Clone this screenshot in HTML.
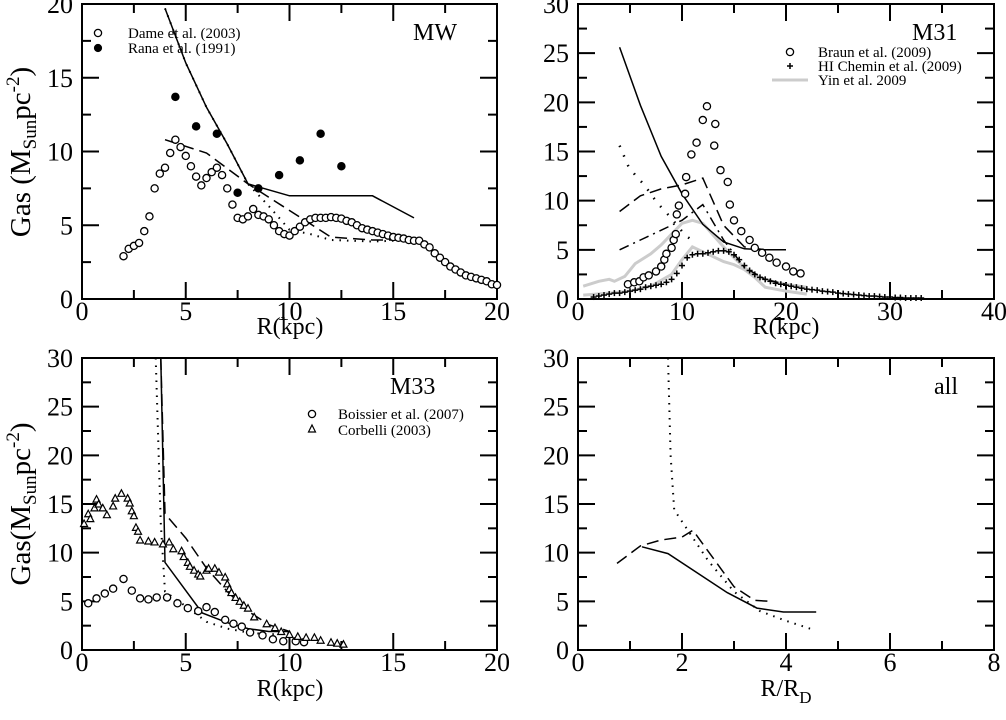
<!DOCTYPE html>
<html><head><meta charset="utf-8"><style>
body{margin:0;background:#fff;}
svg text{font-family:"Liberation Serif",serif;fill:#000;}
</style></head><body>
<svg id="fig" width="1006" height="715" viewBox="0 0 1006 715" xmlns="http://www.w3.org/2000/svg"></svg>
<script>
// ---------- MW data ----------
const mwDameR=[2,2.25,2.5,2.75,3,3.25,3.5,3.75,4,4.25,4.5,4.75,5,5.25,5.5,5.75,6,6.25,6.5,6.75,7,7.25,7.5,7.75,8,8.25,8.5,8.75,9,9.25,9.5,9.75,10,10.25,10.5,10.75,11,11.25,11.5,11.75,12,12.25,12.5,12.75,13,13.25,13.5,13.75,14,14.25,14.5,14.75,15,15.25,15.5,15.75,16,16.25,16.5,16.75,17,17.25,17.5,17.75,18,18.25,18.5,18.75,19,19.25,19.5,19.75,20];
const mwDameV=[2.9,3.4,3.6,3.8,4.6,5.6,7.5,8.5,8.9,9.9,10.8,10.3,9.7,9.0,8.3,7.7,8.2,8.6,8.9,8.4,7.5,6.4,5.5,5.4,5.6,6.1,5.7,5.6,5.4,5.0,4.6,4.4,4.3,4.6,4.9,5.2,5.4,5.5,5.5,5.5,5.55,5.5,5.45,5.3,5.2,5.0,4.8,4.7,4.6,4.5,4.4,4.3,4.2,4.15,4.1,4.0,3.95,3.95,3.7,3.5,3.1,2.8,2.5,2.2,2.0,1.8,1.6,1.5,1.4,1.3,1.2,1.0,0.95];
const mwRanaR=[4.5,5.5,6.5,7.5,8.5,9.5,10.5,11.5,12.5];
const mwRanaV=[13.7,11.7,11.2,7.2,7.5,8.4,9.4,11.2,9.0];
const mwSolidR=[4,5,6,7,8,10,14,16];
const mwSolidV=[19.7,16,13,10.5,7.8,7,7,5.5];
const mwDashR=[4,6,8,10,12,14,16];
const mwDashV=[10.8,9.9,7.8,6.0,4.2,4.0,4.0];
const mwDotR=[4,5,6,7,8,9,10,11,12,14,16];
const mwDotV=[19.7,16,13,10.5,7.8,6.3,4.7,4.4,4.0,3.9,4.0];
// ---------- M31 data ----------
const m31BraunR=[4.8,5.4,5.9,6.3,6.8,7.5,8.0,8.3,8.5,9.0,9.2,9.4,9.5,9.7,10.3,10.4,10.9,11.4,12.0,12.4,13.1,13.2,13.7,14.4,14.6,15.0,15.7,16.5,17.0,17.7,18.4,19.1,20.0,20.7,21.4];
const m31BraunV=[1.5,1.7,1.8,2.2,2.4,2.8,3.3,4.0,4.6,5.2,6.0,6.6,8.6,9.5,10.7,12.4,14.7,15.9,18.2,19.6,15.6,17.8,13.1,11.9,9.6,8.0,6.9,6.0,5.2,4.7,4.2,3.7,3.3,2.8,2.6];
const m31CheminR=[1.5,2,2.5,3,3.5,4,4.5,5,5.5,6,6.5,7,7.5,8,8.5,9,9.5,10,10.5,11,11.5,12,12.5,13,13.5,14,14.5,15,15.5,16,16.5,17,17.5,18,18.5,19,19.5,20,20.5,21,21.5,22,22.5,23,23.5,24,24.5,25,25.5,26,26.5,27,27.5,28,28.5,29,29.5,30,30.5,31,31.5,32,32.5,33];
const m31CheminV=[0.2,0.3,0.4,0.5,0.6,0.6,0.7,0.8,0.9,1.0,1.2,1.3,1.4,1.5,1.7,2.0,2.6,3.4,4.2,4.5,4.6,4.6,4.7,4.8,4.9,4.9,4.8,4.5,4.0,3.4,2.9,2.5,2.2,2.0,1.8,1.6,1.5,1.4,1.3,1.2,1.1,1.0,0.95,0.9,0.8,0.75,0.7,0.6,0.55,0.5,0.45,0.4,0.35,0.3,0.3,0.25,0.2,0.2,0.15,0.15,0.1,0.1,0.1,0.1];
const m31YinUpR=[0.5,2,3,3.5,4.5,5.5,7,8,9,10,11,12,13,14,15,16,17,18,19,20,22];
const m31YinUpV=[1.3,1.8,2.0,1.8,2.3,3.6,4.6,5.5,6.6,7.7,8.0,7.7,6.5,5.3,4.2,3.2,2.4,2.0,1.7,1.5,1.2];
const m31YinLoR=[0.5,3,5,7,9,10,11,12,13,14,15,16,17,18,19,20,22];
const m31YinLoV=[0.4,0.6,0.8,1.3,2.5,4.0,5.3,4.8,4.3,3.8,3.5,3.0,2.2,1.2,1.0,0.8,0.5];
const m31SolidR=[4,6,8,10,12,14,16,18,20];
const m31SolidV=[25.6,19.7,14.5,10.7,7.6,5.8,5.1,5.0,5.0];
const m31DashR=[4,6,8,10,12,14,16,18,20];
const m31DashV=[8.9,10.5,11.2,11.6,12.3,7.5,5.3,5.0,5.0];
const m31DashDotR=[4,6,8,10,12,14,16,18,20];
const m31DashDotV=[5.0,6.0,7.0,8.0,9.6,6.0,3.2,2.0,1.5];
const m31DotR=[4,4.8,5.5,6.3,7.0,7.6,8.2,9.0,9.6,10.3,11.2];
const m31DotV=[15.6,13.6,12.6,11.7,10.7,9.8,9.1,8.2,7.4,6.5,5.8];
// ---------- M33 data ----------
const m33BoisR=[0.3,0.7,1.1,1.5,2.0,2.4,2.8,3.2,3.6,4.1,4.6,5.1,5.6,6.0,6.4,6.9,7.3,7.7,8.1,8.7,9.2,9.7,10.3,10.7];
const m33BoisV=[4.8,5.3,5.8,6.3,7.3,6.1,5.3,5.2,5.4,5.4,4.8,4.3,4.0,4.4,3.9,3.1,2.7,2.4,1.8,1.5,1.1,0.9,0.9,0.8];
const m33CorbR=[0.1,0.3,0.4,0.6,0.7,0.8,1.0,1.2,1.5,1.6,1.9,2.2,2.3,2.4,2.5,2.6,2.7,2.8,3.2,3.5,3.9,4.2,4.4,4.8,4.9,5.1,5.2,5.4,5.6,5.7,6.0,6.1,6.4,6.6,6.9,7.0,7.1,7.2,7.4,7.6,7.8,8.0,8.3,8.9,9.3,9.6,10.0,10.4,10.8,11.2,11.5,12.0,12.3,12.6];
const m33CorbV=[13,14,13.5,14.6,15.5,15,14.6,13.9,14.8,15.6,16.1,15.6,15.1,14.3,13.8,12.6,12.2,11.3,11.2,11.1,10.9,11.1,10.4,10.2,9.6,9.0,8.6,8.2,7.8,7.6,8.2,8.4,8.4,8.0,7.5,6.8,6.3,5.9,5.4,5.0,4.6,4.3,3.4,2.7,2.3,1.9,1.6,1.4,1.3,1.3,1.0,0.8,0.7,0.6];
const m33SolidR=[3.8,4.0,5.8,7,8,9,10];
const m33SolidV=[30,9.0,3.8,2.8,2.2,1.9,1.9];
const m33DashR=[3.8,4.0,5,6,7,8,9,10];
const m33DashV=[30,14,11.5,8.4,6,4,2.6,1.9];
const m33DotR=[3.55,3.8,4.0,5,6,7,8,9,10];
const m33DotV=[30,13,6,4.5,2.9,2.2,1.8,1.6,1.7];
// ---------- All data ----------
const allDotR=[1.73,1.78,1.85,2.15,2.5,3.0,3.5,4.0,4.52];
const allDotV=[30,20,14.4,12.0,9.2,6.0,4.0,3.0,2.1];
const allSolidR=[1.23,1.73,2.87,3.44,3.95,4.58];
const allSolidV=[10.6,9.9,5.9,4.3,3.9,3.9];
const allDashR=[0.75,1.2,1.6,2.0,2.21,3.0,3.4,3.7];
const allDashV=[8.9,10.7,11.3,11.6,12.3,6.5,5.1,5.0];
const xTicksKpc20=[0,5,10,15,20];
const xTicksKpc40=[0,10,20,30,40];
const xTicksRD=[0,2,4,6,8];
const yTicks20=[0,5,10,15,20];
const yTicks30=[0,5,10,15,20,25,30];

const NS='http://www.w3.org/2000/svg';
const svg=document.getElementById('fig');
function mk(tag,attrs,parent){const e=document.createElementNS(NS,tag);for(const k in attrs)e.setAttribute(k,attrs[k]);(parent||svg).appendChild(e);return e;}

function panel(name,x0,x1,y0,y1,xmax,ymax,xt,yt,xminor,yminor){
  const g=mk('g',{});
  
  
  const sx=v=>x0+v/xmax*(x1-x0), sy=v=>y0-v/ymax*(y0-y1);
  const fr=mk('rect',{x:x0,y:y1,width:x1-x0,height:y0-y1,fill:'none',stroke:'#000','stroke-width':2},g);
  
  
  const ax=mk('g',{stroke:'#000','stroke-width':2},g);
  
  
  for(let v=0;v<=xmax+1e-9;v+=xminor){const major=xt.some(t=>Math.abs(t-v)<1e-6);const L=major?17:9;const X=sx(v);
    mk('line',{x1:X,x2:X,y1:y0,y2:y0-L},ax);mk('line',{x1:X,x2:X,y1:y1,y2:y1+L},ax);}
  for(let v=0;v<=ymax+1e-9;v+=yminor){const major=yt.some(t=>Math.abs(t-v)<1e-6);const L=major?17:9;const Y=sy(v);
    mk('line',{x1:x0,x2:x0+L,y1:Y,y2:Y},ax);mk('line',{x1:x1,x2:x1-L,y1:Y,y2:Y},ax);}
  xt.forEach(t=>{const e=mk('text',{x:sx(t),y:y0+21,'font-size':26,'text-anchor':'middle'},g);e.textContent=t;
    
    });
  yt.forEach(t=>{const e=mk('text',{x:x0-9,y:sy(t)+9,'font-size':26,'text-anchor':'end'},g);e.textContent=t;
    
    });
  return {g,sx,sy};
}
function line(p,R,V,dash,name,color,w){
  const d=R.map((r,i)=>(i?'L':'M')+p.sx(r).toFixed(1)+','+p.sy(V[i]).toFixed(1)).join('');
  const e=mk('path',{d:d,fill:'none',stroke:color||'#000','stroke-width':w||1.5,'stroke-dasharray':dash||'none'},p.g);
  
  
}
function circles(p,R,V,name,fill,r){
  const g=mk('g',{},p.g);
  
  
  R.forEach((x,i)=>{mk('circle',{cx:p.sx(x),cy:p.sy(V[i]),r:r||3.6,fill:fill||'#fff',stroke:'#000','stroke-width':1.3},g);});
}
function crosses(p,R,V,name){
  const g=mk('g',{stroke:'#000','stroke-width':1.5},p.g);
  
  
  R.forEach((x,i)=>{const X=p.sx(x),Y=p.sy(V[i]);mk('line',{x1:X-3,x2:X+3,y1:Y,y2:Y},g);mk('line',{x1:X,x2:X,y1:Y-3,y2:Y+3},g);});
}
function tris(p,R,V,name){
  const g=mk('g',{},p.g);
  
  
  R.forEach((x,i)=>{const X=p.sx(x),Y=p.sy(V[i]);mk('path',{d:`M${X-3.5},${Y+3}L${X+3.5},${Y+3}L${X},${Y-3.5}Z`,fill:'#fff',stroke:'#000','stroke-width':1.2},g);});
}
function txt(g,x,y,s,size,name,anchor,rot){
  const e=mk('text',{x:x,y:y,'font-size':size,'text-anchor':anchor||'start'},g);
  if(rot)e.setAttribute('transform',`rotate(-90 ${x} ${y})`);
  e.innerHTML=s;
  
  
  return e;
}
const DASH='12 6', DOT='1.5 6', DASHDOT='10 5 2 5';

// MW
const p1=panel('mw',82,497,299,4,20,20,xTicksKpc20,yTicks20,2.5,2.5);
line(p1,mwSolidR,mwSolidV,null,'mw-solid-model');
line(p1,mwDashR,mwDashV,DASH,'mw-dashed-model');
line(p1,mwDotR,mwDotV,DOT,'mw-dotted-model',null,2);
circles(p1,mwDameR,mwDameV,'mw-dame-points');
circles(p1,mwRanaR,mwRanaV,'mw-rana-points','#000');
mk('circle',{cx:98,cy:33,r:3.6,fill:'#fff',stroke:'#000','stroke-width':1.3},p1.g);
mk('circle',{cx:98,cy:48,r:3.6,fill:'#000',stroke:'#000'},p1.g);
txt(p1.g,128,38,'Dame et al. (2003)',15,'legend-dame');
txt(p1.g,128,53,'Rana et al. (1991)',15,'legend-rana');
txt(p1.g,413,40,'MW',24,'mw-label');
txt(p1.g,290,334,'R(kpc)',24,'mw-x-axis-title','middle');
txt(p1.g,30,152,'Gas (M<tspan font-size="19" dy="6">Sun</tspan><tspan dy="-6">pc</tspan><tspan font-size="19" dy="-11">-2</tspan><tspan dy="11">)</tspan>',29,'mw-y-axis-title','middle',true);

// M31
const p2=panel('m31',578,994,299,4,40,30,xTicksKpc40,yTicks30,5,2.5);
line(p2,m31YinUpR,m31YinUpV,null,'m31-yin-upper','#ccc',3);
line(p2,m31YinLoR,m31YinLoV,null,'m31-yin-lower','#ccc',3);
line(p2,m31SolidR,m31SolidV,null,'m31-solid-model');
line(p2,m31DashR,m31DashV,DASH,'m31-dashed-model');
line(p2,m31DashDotR,m31DashDotV,DASHDOT,'m31-dashdot-model');
line(p2,m31DotR,m31DotV,'1.5 9','m31-dotted-model',null,2.5);
crosses(p2,m31CheminR,m31CheminV,'m31-chemin-points');
circles(p2,m31BraunR,m31BraunV,'m31-braun-points');
mk('circle',{cx:790,cy:52,r:3.6,fill:'#fff',stroke:'#000','stroke-width':1.3},p2.g);
mk('path',{d:'M787,66h6M790,63v6',stroke:'#000','stroke-width':1.5},p2.g);
mk('line',{x1:772,x2:808,y1:80,y2:80,stroke:'#ccc','stroke-width':3},p2.g);
txt(p2.g,818,57,'Braun et al. (2009)',15,'legend-braun');
txt(p2.g,818,71,'HI Chemin et al. (2009)',15,'legend-chemin');
txt(p2.g,818,85,'Yin et al. 2009',15,'legend-yin');
txt(p2.g,912,40,'M31',24,'m31-label');
txt(p2.g,786,334,'R(kpc)',24,'m31-x-axis-title','middle');

// M33
const p3=panel('m33',82,497,650,358,20,30,xTicksKpc20,yTicks30,2.5,2.5);
line(p3,m33SolidR,m33SolidV,null,'m33-solid-model');
line(p3,m33DashR,m33DashV,DASH,'m33-dashed-model');
line(p3,m33DotR,m33DotV,DOT,'m33-dotted-model',null,2);
circles(p3,m33BoisR,m33BoisV,'m33-boissier-points');
tris(p3,m33CorbR,m33CorbV,'m33-corbelli-points');
mk('circle',{cx:312,cy:414,r:3.6,fill:'#fff',stroke:'#000','stroke-width':1.3},p3.g);
mk('path',{d:'M308.5,432L315.5,432L312,425Z',fill:'#fff',stroke:'#000','stroke-width':1.2},p3.g);
txt(p3.g,338,419,'Boissier et al. (2007)',15,'legend-boissier');
txt(p3.g,338,435,'Corbelli (2003)',15,'legend-corbelli');
txt(p3.g,390,394,'M33',24,'m33-label');
txt(p3.g,290,696,'R(kpc)',24,'m33-x-axis-title','middle');
txt(p3.g,30,504,'Gas(M<tspan font-size="19" dy="6">Sun</tspan><tspan dy="-6">pc</tspan><tspan font-size="19" dy="-11">-2</tspan><tspan dy="11">)</tspan>',29,'m33-y-axis-title','middle',true);

// All
const p4=panel('all',578,994,650,358,8,30,xTicksRD,yTicks30,1,2.5);
line(p4,allSolidR,allSolidV,null,'all-solid-model');
line(p4,allDashR,allDashV,DASH,'all-dashed-model');
line(p4,allDotR,allDotV,DOT,'all-dotted-model',null,2);
txt(p4.g,934,394,'all',24,'all-label');
txt(p4.g,786,696,'R/R<tspan font-size="17" dy="7">D</tspan>',24,'all-x-axis-title','middle');
</script>
</body></html>
